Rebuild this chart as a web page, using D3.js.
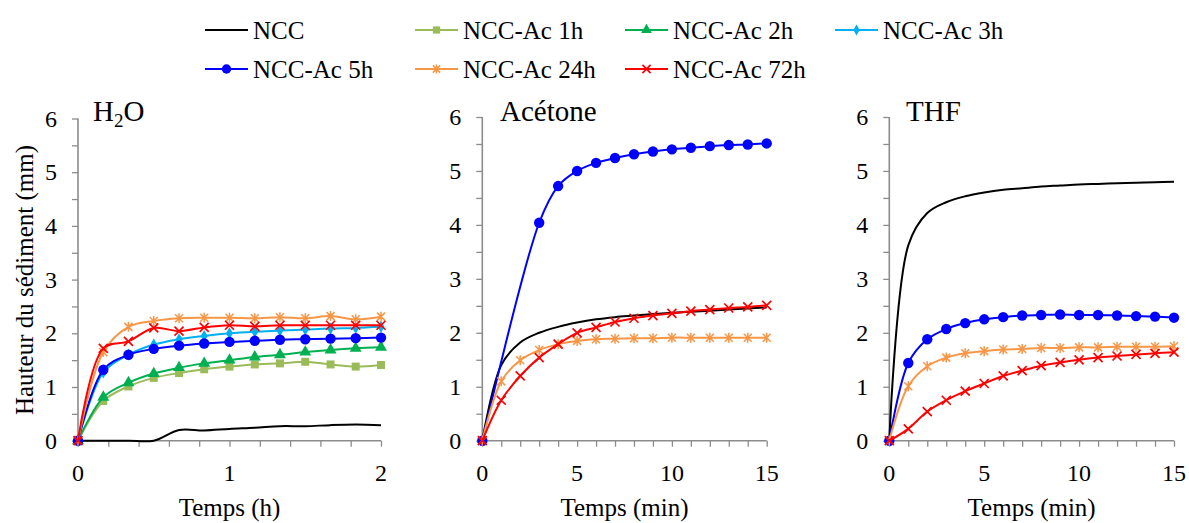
<!DOCTYPE html>
<html><head><meta charset="utf-8">
<script src="https://cdn.jsdelivr.net/npm/d3@7"></script>
<style>
body{margin:0;background:#fff}
svg text{font-family:'Liberation Serif','DejaVu Serif',serif;fill:#000}
</style>
</head><body>
<svg id="c" width="1189" height="523" style="font-family:'Liberation Serif','DejaVu Serif',serif"></svg>
<script>
// ---------- series definitions ----------
const seriesNames   = ["NCC","NCC-Ac 1h","NCC-Ac 2h","NCC-Ac 3h","NCC-Ac 5h","NCC-Ac 24h","NCC-Ac 72h"];
const seriesColors  = ["#000000","#9BBB59","#00B050","#00B0F0","#0000FF","#F79646","#FF0000"];
const seriesMarkers = ["none","square","triangle","diamond","circle","asterisk","cross"];

// ---------- H2O panel (time in h) ----------
const h2oTime  = [0, 0.167, 0.333, 0.5, 0.667, 0.833, 1, 1.167, 1.333, 1.5, 1.667, 1.833, 2];
const h2oNCC   = [0, 0, 0, 0, 0.20, 0.19, 0.22, 0.24, 0.27, 0.27, 0.29, 0.30, 0.29];
const h2oAc1h  = [0, 0.74, 1.01, 1.17, 1.26, 1.33, 1.38, 1.42, 1.44, 1.47, 1.42, 1.38, 1.41];
const h2oAc2h  = [0, 0.81, 1.08, 1.25, 1.36, 1.44, 1.50, 1.56, 1.60, 1.65, 1.69, 1.72, 1.74];
const h2oAc3h  = [0, 1.27, 1.60, 1.79, 1.89, 1.95, 2.00, 2.03, 2.05, 2.07, 2.09, 2.10, 2.12];
const h2oAc5h  = [0, 1.32, 1.60, 1.71, 1.77, 1.81, 1.84, 1.86, 1.88, 1.89, 1.90, 1.91, 1.92];
const h2oAc24h = [0, 1.65, 2.12, 2.23, 2.28, 2.29, 2.29, 2.28, 2.30, 2.28, 2.32, 2.26, 2.31];
const h2oAc72h = [0, 1.72, 1.85, 2.10, 2.04, 2.11, 2.15, 2.13, 2.15, 2.15, 2.15, 2.15, 2.15];

// ---------- Acétone panel (time in min) ----------
const minTime  = [0, 1, 2, 3, 4, 5, 6, 7, 8, 9, 10, 11, 12, 13, 14, 15];
const acNCC    = [0, 1.40, 1.82, 2.00, 2.11, 2.19, 2.25, 2.29, 2.32, 2.35, 2.37, 2.39, 2.41, 2.43, 2.45, 2.47];
const ac5hTime = [0, 3, 4, 5, 6, 7, 8, 9, 10, 11, 12, 13, 14, 15];
const acAc5h   = [0, 4.04, 4.72, 5.00, 5.15, 5.24, 5.31, 5.36, 5.40, 5.43, 5.46, 5.48, 5.49, 5.51];
const acAc24h  = [0, 1.10, 1.49, 1.68, 1.79, 1.85, 1.88, 1.89, 1.90, 1.90, 1.91, 1.91, 1.91, 1.91, 1.91, 1.91];
const acAc72h  = [0, 0.75, 1.20, 1.54, 1.79, 2.00, 2.10, 2.20, 2.27, 2.32, 2.36, 2.40, 2.43, 2.46, 2.48, 2.51];

// ---------- THF panel (time in min) ----------
const thfNCC   = [0, 3.62, 4.22, 4.42, 4.53, 4.60, 4.65, 4.68, 4.71, 4.73, 4.75, 4.76, 4.77, 4.78, 4.79, 4.80];
const thfAc5h  = [0, 1.44, 1.88, 2.07, 2.18, 2.25, 2.29, 2.32, 2.33, 2.34, 2.33, 2.33, 2.32, 2.31, 2.30, 2.28];
const thfAc24h = [0, 1.01, 1.38, 1.54, 1.62, 1.66, 1.69, 1.70, 1.72, 1.72, 1.73, 1.73, 1.74, 1.74, 1.74, 1.75];
const thfAc72h = [0, 0.22, 0.54, 0.75, 0.92, 1.06, 1.20, 1.30, 1.39, 1.45, 1.50, 1.54, 1.57, 1.60, 1.62, 1.64];

// ---------- axis labels ----------
const yTickLabels = [0, 1, 2, 3, 4, 5, 6];
const h2oXTickLabels = [0, 1, 2];
const minXTickLabels = [0, 5, 10, 15];
const yTitle = "Hauteur du sédiment (mm)";

// ---------- panels ----------
const panels = [
  { title: "H2O", xTitle: "Temps (h)", xMax: 2, xMinorStep: 0.2, xLabels: h2oXTickLabels,
    x0: 78, x1: 381, yTop: 118.5, yBot: 440.7, titleX: 93,
    series: [
      {i:0, x:h2oTime, y:h2oNCC}, {i:1, x:h2oTime, y:h2oAc1h}, {i:2, x:h2oTime, y:h2oAc2h},
      {i:3, x:h2oTime, y:h2oAc3h}, {i:4, x:h2oTime, y:h2oAc5h}, {i:5, x:h2oTime, y:h2oAc24h},
      {i:6, x:h2oTime, y:h2oAc72h}
    ]},
  { title: "Acétone", xTitle: "Temps (min)", xMax: 15, xMinorStep: 1, xLabels: minXTickLabels,
    x0: 482.3, x1: 766.7, yTop: 117, yBot: 440.7, titleX: 500,
    series: [
      {i:0, x:minTime, y:acNCC}, {i:4, x:ac5hTime, y:acAc5h},
      {i:5, x:minTime, y:acAc24h}, {i:6, x:minTime, y:acAc72h}
    ]},
  { title: "THF", xTitle: "Temps (min)", xMax: 15, xMinorStep: 1, xLabels: minXTickLabels,
    x0: 889.3, x1: 1174, yTop: 117, yBot: 440.7, titleX: 906,
    series: [
      {i:0, x:minTime, y:thfNCC}, {i:4, x:minTime, y:thfAc5h},
      {i:5, x:minTime, y:thfAc24h}, {i:6, x:minTime, y:thfAc72h}
    ]}
];

const FONT = "'Liberation Serif','DejaVu Serif',serif";
const svg = d3.select("#c");
const axisColor = "#8c8c8c";

function txt(sel) { return sel.attr("font-family", FONT).style("font-family", FONT); }

function drawMarker(g, type, color, s) {
  if (type === "none") return;
  if (type === "square") {
    g.append("path").attr("d", d3.symbol(d3.symbolSquare, 64 * s * s)()).attr("fill", color);
  } else if (type === "triangle") {
    g.append("path").attr("d", d3.symbol(d3.symbolTriangle, 62 * s * s)()).attr("fill", color);
  } else if (type === "diamond") {
    g.append("path").attr("d", d3.symbol(d3.symbolDiamond, 42 * s * s)()).attr("fill", color);
  } else if (type === "circle") {
    g.append("circle").attr("r", 5.2 * s).attr("fill", color);
  } else if (type === "asterisk") {
    const r = 5 * s, d = r * 0.8;
    g.append("path").attr("d", `M0,${-r}V${r}M${-d},${-d}L${d},${d}M${-d},${d}L${d},${-d}`)
      .attr("stroke", color).attr("stroke-width", 1.5).attr("fill", "none");
  } else if (type === "cross") {
    const d = 4.5 * s;
    g.append("path").attr("d", `M${-d},${-d}L${d},${d}M${-d},${d}L${d},${-d}`)
      .attr("stroke", color).attr("stroke-width", 1.7).attr("fill", "none");
  }
}

panels.forEach((p) => {
  const x = d3.scaleLinear().domain([0, p.xMax]).range([p.x0, p.x1]);
  const y = d3.scaleLinear().domain([0, 6]).range([p.yBot, p.yTop]);
  const g = svg.append("g");

  const yAx = g.append("g").attr("transform", `translate(${p.x0},0)`)
    .call(d3.axisLeft(y).tickValues(d3.range(0, 6.001, 0.5)).tickSize(6).tickFormat(""));
  yAx.select(".domain").attr("stroke", axisColor).attr("stroke-width", 1.6).attr("d", `M0,${p.yTop}V${p.yBot}`);
  yAx.selectAll(".tick line").attr("stroke", axisColor).attr("stroke-width", 1.3);
  txt(g.selectAll(".ylab").data(yTickLabels).enter().append("text"))
    .attr("x", p.x0 - 21).attr("y", d => y(d)).attr("dy", "0.34em")
    .attr("text-anchor", "end").style("font-size", "24px").text(d => d);

  const xAx = g.append("g").attr("transform", `translate(0,${p.yBot})`)
    .call(d3.axisBottom(x).tickValues(d3.range(0, p.xMax + 1e-6, p.xMinorStep)).tickSize(6).tickFormat(""));
  xAx.select(".domain").attr("stroke", axisColor).attr("stroke-width", 1.6).attr("d", `M${p.x0},0H${p.x1}`);
  xAx.selectAll(".tick line").attr("stroke", axisColor).attr("stroke-width", 1.3);
  txt(g.selectAll(".xlab").data(p.xLabels).enter().append("text"))
    .attr("x", d => x(d)).attr("y", 481).attr("text-anchor", "middle")
    .style("font-size", "24px").text(d => d);

  txt(g.append("text")).attr("x", (p.x0 + p.x1) / 2).attr("y", 516).attr("text-anchor", "middle")
    .style("font-size", "25px").text(p.xTitle);

  const t = txt(g.append("text")).attr("x", p.titleX).attr("y", 121).style("font-size", "29px");
  if (p.title === "H2O") {
    t.append("tspan").text("H");
    t.append("tspan").attr("dy", 6).style("font-size", "19px").text("2");
    t.append("tspan").attr("dy", -6).text("O");
  } else {
    t.text(p.title);
  }

  const line = d3.line().x(d => x(d[0])).y(d => y(d[1])).curve(d3.curveCatmullRom.alpha(0.5));
  p.series.forEach(s => {
    const pts = s.x.map((xv, k) => [xv, s.y[k]]);
    const col = seriesColors[s.i];
    g.append("path").attr("d", line(pts)).attr("fill", "none")
      .attr("stroke", col).attr("stroke-width", 2);
    const mg = g.append("g");
    pts.forEach(pt => {
      const m = mg.append("g").attr("transform", `translate(${x(pt[0])},${y(pt[1])})`);
      drawMarker(m, seriesMarkers[s.i], col, 1);
    });
  });
});

txt(svg.append("text")).attr("transform", "translate(33,280) rotate(-90)")
  .attr("text-anchor", "middle").style("font-size", "25px").text(yTitle);

const legCols = [205, 415, 625, 835];
const legRows = [30, 69];
seriesNames.forEach((name, i) => {
  const lx = legCols[i % 4], ly = legRows[Math.floor(i / 4)];
  const lg = svg.append("g");
  lg.append("line").attr("x1", lx).attr("x2", lx + 43).attr("y1", ly).attr("y2", ly)
    .attr("stroke", seriesColors[i]).attr("stroke-width", 2);
  const m = lg.append("g").attr("transform", `translate(${lx + 21.5},${ly})`);
  drawMarker(m, seriesMarkers[i], seriesColors[i], 0.9);
  txt(lg.append("text")).attr("x", lx + 48).attr("y", ly).attr("dy", "0.34em")
    .style("font-size", "25px").text(name);
});
</script>
</body></html>
